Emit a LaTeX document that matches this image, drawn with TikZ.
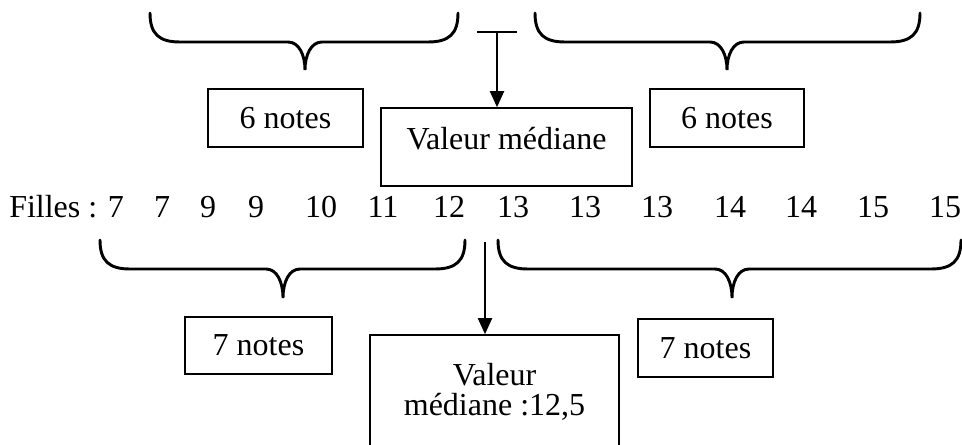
\documentclass[tikz,border=0pt]{standalone}
\usepackage{fontspec}
\setmainfont{Liberation Serif}
\usetikzlibrary{arrows.meta}
\begin{document}
\begin{tikzpicture}[x=0.75pt,y=-0.75pt,
  every node/.style={font=\fontsize{24}{22.5}\selectfont},
  box/.style={draw, line width=1.2pt, inner sep=0pt, align=center},
  num/.style={anchor=base, inner sep=0pt},
  brace/.style={line width=2.2pt, line cap=round},
  arr/.style={line width=1.5pt, -{Triangle[length=12pt,width=10.5pt]}}]
\useasboundingbox (0,0) rectangle (962,445);

% braces
\draw[brace] (150,13) .. controls (150,34) and (159,42) .. (180,42) -- (288,42)
  .. controls (299,42) and (305,55) .. (305,70)
  .. controls (305,55) and (311,42) .. (322,42) -- (428,42)
  .. controls (449,42) and (458,34) .. (458,13);
\draw[brace] (535,13) .. controls (535,34) and (544,42) .. (565,42) -- (710,42)
  .. controls (721,42) and (727,55) .. (727,70)
  .. controls (727,55) and (733,42) .. (744,42) -- (890,42)
  .. controls (911,42) and (920,34) .. (920,13);
\draw[brace] (100,240) .. controls (100,261) and (109,269) .. (130,269) -- (266,269)
  .. controls (277,269) and (283,282) .. (283,298)
  .. controls (283,282) and (289,269) .. (300,269) -- (435,269)
  .. controls (456,269) and (465,261) .. (465,240);
\draw[brace] (498,240) .. controls (498,261) and (507,269) .. (528,269) -- (715,269)
  .. controls (726,269) and (732,282) .. (732,298)
  .. controls (732,282) and (738,269) .. (749,269) -- (931,269)
  .. controls (952,269) and (961,261) .. (961,240);

% boxes
\node[box, minimum width=116.25pt, minimum height=43.5pt] (t6l) at (285.5,118) {6 notes};
\node[box, minimum width=115.5pt, minimum height=43.5pt] (t6r) at (727,118) {6 notes};
\node[box, minimum width=188.25pt, minimum height=58.5pt, text height=4.5pt, text depth=0pt] (tmed) at (506.5,147) {Valeur médiane};
\node[box, minimum width=110.25pt, minimum height=42.75pt] (b7l) at (258.5,345.5) {7 notes};
\node[box, minimum width=101.25pt, minimum height=43.5pt] (b7r) at (705.5,348) {7 notes};
\node[box, minimum width=186.75pt, minimum height=85.5pt] (bmed) at (494.5,392) {Valeur\\médiane :12,5};

% data row
\node[anchor=base west, inner sep=0pt] (filles) at (9,218) {Filles : 7};
\node[num] (n2) at (162,218) {7};
\node[num] (n3) at (208,218) {9};
\node[num] (n4) at (256,218) {9};
\node[num] (n5) at (321,218) {10};
\node[num] (n6) at (383,218) {11};
\node[num] (n7) at (449,218) {12};
\node[num] (n8) at (513,218) {13};
\node[num] (n9) at (585,218) {13};
\node[num] (n10) at (657,218) {13};
\node[num] (n11) at (730,218) {14};
\node[num] (n12) at (801,218) {14};
\node[num] (n13) at (873,218) {15};
\node[num] (n14) at (945,218) {15};

% arrows
\coordinate (tl) at (477,32);
\coordinate (tr) at (517,32);
\coordinate (tm) at (497,32);
\draw[line width=1.5pt] (tl) -- (tr);
\draw[arr] (tm) -- (tm |- tmed.north);
\coordinate (bs) at (485,242);
\draw[arr] (bs) -- (bs |- bmed.north);
\end{tikzpicture}
\end{document}
